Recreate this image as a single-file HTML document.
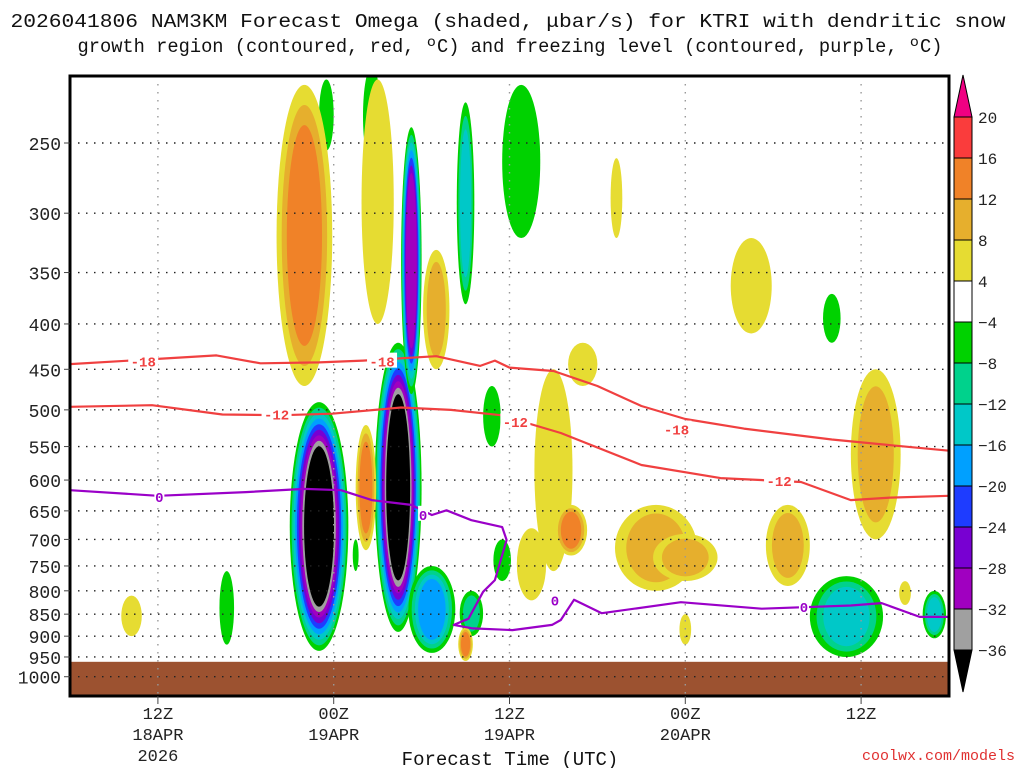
<!DOCTYPE html>
<html><head><meta charset="utf-8"><style>
body{margin:0;background:#fff;}
svg text{font-family:"Liberation Mono","DejaVu Sans Mono",monospace;}
</style></head><body>
<svg id="chart" width="1024" height="768" xmlns="http://www.w3.org/2000/svg">
<text x="508" y="27" font-size="19" text-anchor="middle" fill="#111" textLength="995" lengthAdjust="spacingAndGlyphs">2026041806 NAM3KM Forecast Omega (shaded, μbar/s) for KTRI with dendritic snow</text>
<text x="510" y="52" font-size="19" text-anchor="middle" fill="#111" textLength="865" lengthAdjust="spacingAndGlyphs">growth region (contoured, red, ºC) and freezing level (contoured, purple, ºC)</text>
<g id="plot"></g>
<g id="axes"></g>
<g id="cbar"></g>
<text x="510" y="765" font-size="19" text-anchor="middle" fill="#111">Forecast Time (UTC)</text>
<text x="1015" y="760" font-size="15" text-anchor="end" fill="#e03030">coolwx.com/models</text>
</svg>
<script>
const pLevels=[250,300,350,400,450,500,550,600,650,700,750,800,850,900,950,1000];
const xTickHours=[6,18,30,42,54];
const xTickLabels=[["12Z","18APR","2026"],["00Z","19APR"],["12Z","19APR"],["00Z","20APR"],["12Z",""]];
const cbLevels=[-36,-32,-28,-24,-20,-16,-12,-8,-4,4,8,12,16,20];
const negColors=["#00d200","#00d28c","#00c8c8","#00a0ff","#1e3cff","#7800d2","#a000c0","#a0a0a0","#000000"];
const posColors=["#e6dc32","#e6af2d","#f08228","#fa3c3c","#f00082"];
// blobs: hour, pressure top, pressure bottom, half width (hours), peak omega
const blobHours=[17,22.4,23.3,20.6,17.5,27,30.8,24.7,28.8,27.4,29.5,10.7,53,59,52,16,21,20.2,25,33,34.2,35,37.3,40,42,46.5,49,55,31.5,4.2,42,57,27,19.5];
const blobTop=[490,420,240,205,212,225,215,750,470,800,700,760,770,800,370,215,212,520,330,450,640,420,260,640,690,320,640,450,680,810,850,780,880,700];
const blobBot=[935,890,480,265,255,380,320,940,550,900,780,920,950,905,420,470,400,720,450,760,730,470,320,800,780,410,790,700,820,900,920,830,960,760];
const blobHalf=[2,1.6,0.7,0.6,0.5,0.6,1.3,1.6,0.6,0.8,0.6,0.5,2.5,0.8,0.6,1.9,1.1,0.7,0.9,1.3,1.1,1,0.4,2.8,2.2,1.4,1.5,1.7,1,0.7,0.4,0.4,0.5,0.2];
const blobPeak=[-40,-40,-28,-6,-6,-14,-6,-16,-6,-10,-6,-6,-14,-14,-6,13,6,12,10,6,12,6,6,9,10,6,10,10,6,6,6,6,12,-6];
// contour lines (hour, pressure)
const m18Hours=[0,6,10,13,17,20,25,28,29,30,33,36,39,42,46,52,56,60];
const m18Press=[444,438,434,443,442,440,435,446,440,448,452,470,495,512,525,540,548,556];
const m12Hours=[0,5.6,10.4,14.5,17.9,22.6,26,29.4,33.5,39,44.4,49.9,53.3,56,60];
const m12Press=[496,494,506,507,505,497,500,507,531,577,597,603,632,628,625];
const zeroHours=[0,6,12,16,18.5,20.6,23.3,24.7,25.7,27.4,29.5,29.8,29,28.2,27.2,26.2,27.5,30.2,32.9,33.5,34.4,36.3,41.7,47.2,53.3,55.4,58,60];
const zeroPress=[616,625,619,614,616,632,640,657,649,666,678,701,778,802,860,874,882,886,874,863,819,848,824,838,831,826,856,856];
const labelText=["-18","-18","-12","-12","-18","-12","0","0","0","0"];
const labelHour=[5,21.3,14.1,30.4,41.4,48.4,6.1,24.1,33.1,50.1];
const labelPress=[440,440,505,515,525,600,625,655,818,832];
const labelColor=["#f04040","#f04040","#f04040","#f04040","#f04040","#f04040","#9a00c8","#9a00c8","#9a00c8","#9a00c8"];

const X0=70,X1=949,Y0=76,Y1=696;
const xs=h=>X0+(h)*(X1-X0)/60;
const ys=p=>143+385*Math.log(p/250);
const NS="http://www.w3.org/2000/svg";
function mk(tag,attrs,parent){const e=document.createElementNS(NS,tag);for(const k in attrs)e.setAttribute(k,attrs[k]);parent.appendChild(e);return e;}
const plot=document.getElementById('plot'),axes=document.getElementById('axes'),cb=document.getElementById('cbar');
const clip=mk('clipPath',{id:'pc'},mk('defs',{},plot));mk('rect',{x:X0,y:Y0,width:X1-X0,height:Y1-Y0},clip);
const g=mk('g',{'clip-path':'url(#pc)'},plot);
mk('rect',{x:X0,y:Y0,width:X1-X0,height:Y1-Y0,fill:'#fff'},g);
for(let i=0;i<blobHours.length;i++){
  const pk=blobPeak[i],neg=pk<0;
  const thr=neg?[-4,-8,-12,-16,-20,-24,-28,-32,-36]:[4,8,12,16,20];
  const cols=neg?negColors:posColors;
  const n=thr.filter(t=>neg?pk<=t:pk>=t).length;
  const cx=xs(blobHours[i]),yt=ys(blobTop[i]),yb=ys(blobBot[i]);
  const cy=(yt+yb)/2,ry=(yb-yt)/2,rx=blobHalf[i]*(X1-X0)/60;
  for(let k=0;k<n;k++){
    const s=1-0.55*k/n;
    const sy=1-0.4*k/n;
    const el=mk('ellipse',{cx:cx,cy:cy,rx:rx*s,ry:ry*sy,fill:cols[k]},g);
    
    
  }
}
const gr=mk('rect',{x:X0,y:ys(962),width:X1-X0,height:Y1-ys(962),fill:'#9c5230'},g);


pLevels.forEach(p=>{mk('line',{x1:X0,x2:X1,y1:ys(p),y2:ys(p),stroke:'#222','stroke-width':1.4,'stroke-dasharray':'1.5 6.5'},g);});
xTickHours.forEach(h=>{mk('line',{x1:xs(h),x2:xs(h),y1:Y0,y2:Y1,stroke:'#999','stroke-width':1.4,'stroke-dasharray':'1.5 6.5'},g);});
function line(H,P,col,name){const d=H.map((h,i)=>(i?'L':'M')+xs(h).toFixed(1)+' '+ys(P[i]).toFixed(1)).join(' ');
  const el=mk('path',{d:d,fill:'none',stroke:col,'stroke-width':2.2,'stroke-linejoin':'round'},g);
  
  }
line(m18Hours,m18Press,'#f04040','contour-minus18');
line(m12Hours,m12Press,'#f04040','contour-minus12');
line(zeroHours,zeroPress,'#9a00c8','freezing-level-contour');
labelText.forEach((t,i)=>{const x=xs(labelHour[i]),y=ys(labelPress[i]);
  mk('rect',{x:x-t.length*5,y:y-8,width:t.length*10,height:15,fill:'#fff'},g);
  const el=mk('text',{x:x,y:y+6,'font-size':14,'font-weight':'bold','text-anchor':'middle',fill:labelColor[i]},g);el.textContent=t;
  
  });
mk('rect',{x:X0,y:Y0,width:X1-X0,height:Y1-Y0,fill:'none',stroke:'#000','stroke-width':3},axes);
pLevels.forEach(p=>{const y=ys(p);mk('line',{x1:X0-6,x2:X0,y1:y,y2:y,stroke:'#444'},axes);
  const t=mk('text',{x:61,y:y+7,'font-size':18,'text-anchor':'end',fill:'#222'},axes);t.textContent=p;
  
  });
xTickHours.forEach((h,i)=>{const x=xs(h);mk('line',{x1:x,x2:x,y1:Y1,y2:Y1+8,stroke:'#444'},axes);
  xTickLabels[i].forEach((s,j)=>{const t=mk('text',{x:x,y:719+j*21,'font-size':17,'text-anchor':'middle',fill:'#222'},axes);t.textContent=s;
  
  });});
const cbx=954,cbw=18,cTop=117,step=41;
mk('polygon',{points:`${cbx},${cTop} ${cbx+cbw},${cTop} ${cbx+cbw/2},${cTop-42}`,fill:'#f00082',stroke:'#000'},cb);
const allCols=[...posColors.slice(0,4).reverse(),'#ffffff',...negColors.slice(0,8)];
allCols.forEach((c,i)=>{const r=mk('rect',{x:cbx,y:cTop+i*step,width:cbw,height:step,fill:c,stroke:'#000'},cb);
  
  });
const cBot=cTop+allCols.length*step;
mk('polygon',{points:`${cbx},${cBot} ${cbx+cbw},${cBot} ${cbx+cbw/2},${cBot+42}`,fill:'#000',stroke:'#000'},cb);
[...cbLevels].reverse().forEach((v,i)=>{const t=mk('text',{x:978,y:cTop+i*step+6,'font-size':16,fill:'#222'},cb);t.textContent=v<0?'−'+(-v):v;
  
  });
</script>
</body></html>
